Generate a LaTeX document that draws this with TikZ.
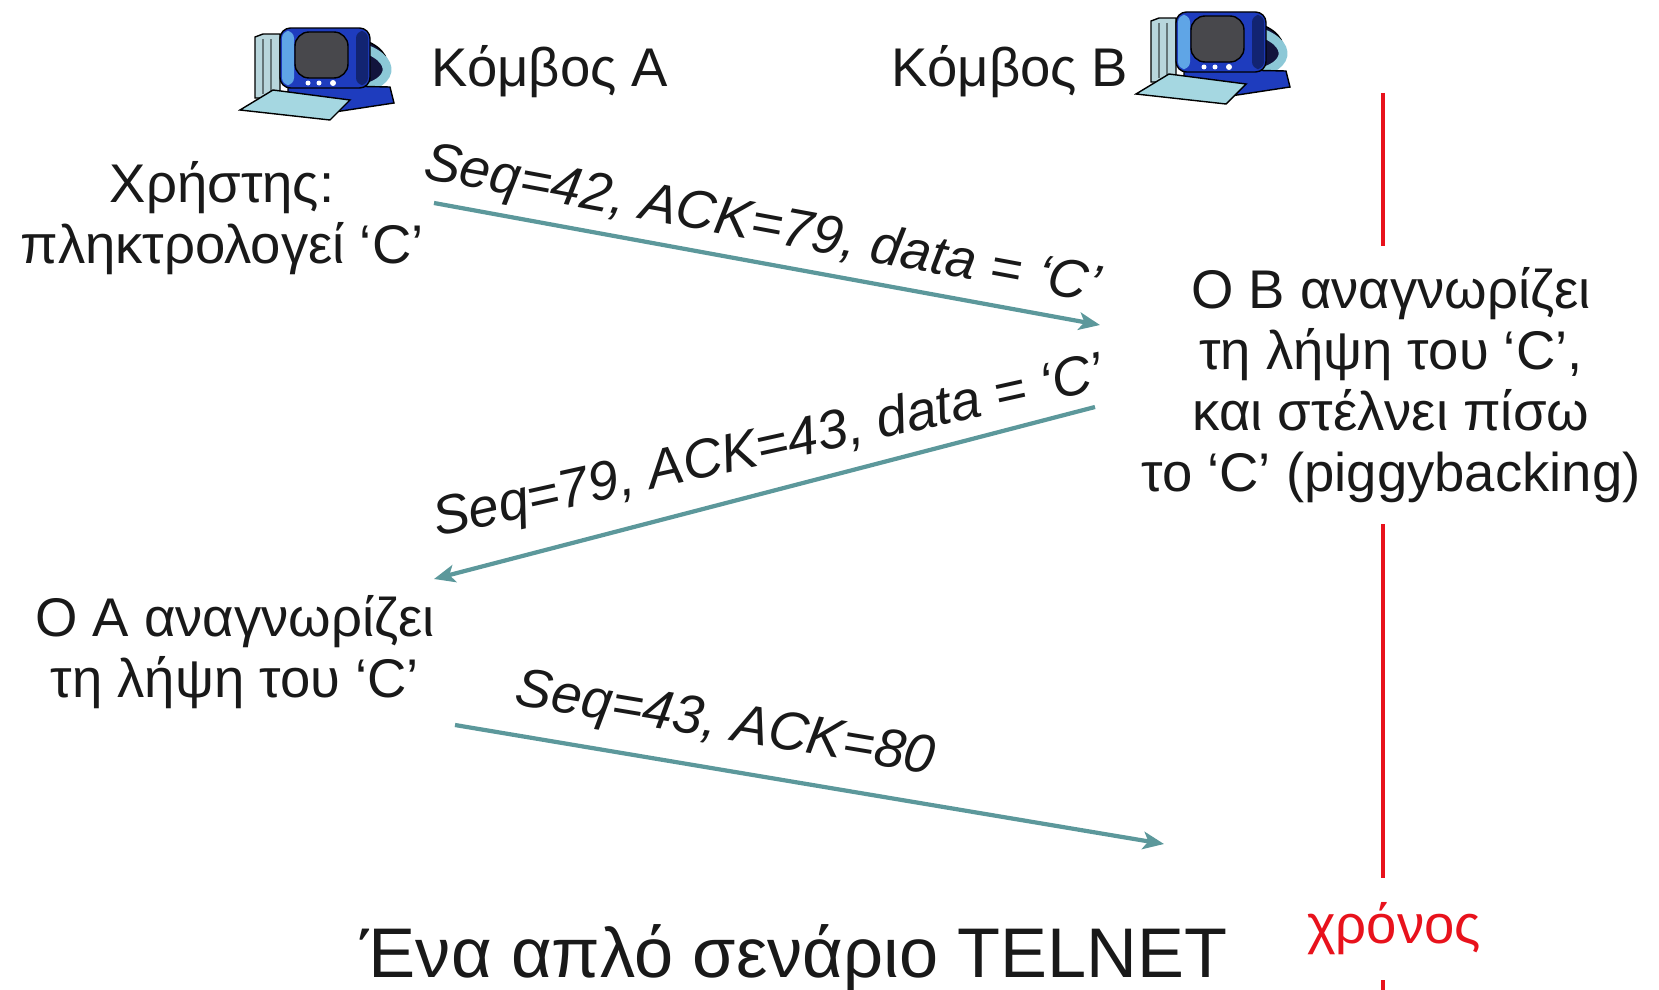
\documentclass[tikz,border=0pt]{standalone}
\usepackage{fontspec}
\setmainfont{Liberation Sans}
\usetikzlibrary{arrows.meta}

\definecolor{msgcol}{RGB}{92,152,155}
\definecolor{timered}{RGB}{232,18,28}
\definecolor{pctower}{RGB}{184,214,220}
\definecolor{pcblue}{RGB}{30,60,190}
\definecolor{pclight}{RGB}{95,165,230}
\definecolor{pcscreen}{RGB}{72,72,76}
\definecolor{pcdark}{RGB}{18,20,60}
\definecolor{pcloop}{RGB}{140,200,215}
\definecolor{pckeys}{RGB}{165,215,225}

\tikzset{
  pics/computer/.style={code={
    \draw[fill=pctower] (-0.63,-0.21) -- (-0.63,0.40) -- (-0.55,0.43) -- (-0.38,0.43) -- (-0.38,-0.21) -- cycle;
    \draw[pctower!55!black, thin] (-0.55,0.38) -- (-0.55,-0.17) (-0.47,0.38) -- (-0.47,-0.17);
    \draw[fill=pcdark] (0.3,0.4) .. controls (0.82,0.35) and (0.82,-0.1) .. (0.35,-0.16) -- cycle;
    \draw[pcloop, line width=2.5pt] (0.35,0.32) .. controls (0.86,0.2) and (0.76,-0.12) .. (0.3,-0.13);
    \draw[fill=pcblue] (-0.3,-0.08) -- (0.72,-0.1) -- (0.76,-0.26) -- (0.1,-0.36) -- (-0.3,-0.22) -- cycle;
    \draw[fill=pcblue, rounded corners=3pt] (-0.38,-0.11) rectangle (0.52,0.49);
    \fill[pclight, rounded corners=2pt] (-0.36,-0.08) rectangle (-0.24,0.46);
    \fill[pcblue!60!black, rounded corners=2pt] (0.38,-0.08) rectangle (0.5,0.46);
    \draw[fill=pcscreen, rounded corners=4pt] (-0.23,-0.01) rectangle (0.3,0.45);
    \fill[white] (-0.1,-0.06) circle (0.025) (0.01,-0.06) circle (0.025) (0.15,-0.06) circle (0.03);
    \draw[fill=pckeys] (-0.78,-0.33) -- (-0.45,-0.13) -- (0.32,-0.23) -- (0.12,-0.43) -- cycle;
  }}
}

\begin{document}
\begin{tikzpicture}[every node/.style={font=\fontsize{15.5}{17.4}\selectfont, align=center, text=black!90},
    seg/.style={font=\fontsize{15.5}{17.4}\selectfont\itshape, inner sep=0pt},
    title/.style={font=\fontsize{20}{24}\selectfont},
    msg/.style={draw=msgcol, line width=1.2pt, -{Stealth[length=6pt, width=5pt, inset=1.5pt]}},
    timeline/.style={draw=timered, line width=1.4pt}]
  \useasboundingbox (0,0) rectangle (16.59,-9.90);

  \coordinate (tTop) at (13.83,-0.93);
  \coordinate (tEnd) at (13.83,-9.90);
  \draw[timeline] (tTop) -- (tEnd);

  \pic at (3.18,-0.77) {computer};
  \pic at (12.14,-0.61) {computer};

  \node (hostA) at (5.50,-0.72) {Κόμβος A};
  \node (hostB) at (10.10,-0.72) {Κόμβος B};
  \node (userA) at (2.22,-2.18) {Χρήστης:\\πληκτρολογεί `C'};
  \node[fill=white, inner ysep=6pt] (ackB) at (13.91,-3.85) {Ο B αναγνωρίζει\\τη λήψη του `C',\\και στέλνει πίσω\\το `C' (piggybacking)};
  \node (ackA) at (2.35,-6.52) {Ο A αναγνωρίζει\\τη λήψη του `C'};
  \node[title] (caption) at (7.94,-9.58) {Ένα απλό σενάριο TELNET};
  \node[fill=white, text=timered, inner ysep=7pt] (time) at (13.94,-9.29) {χρόνος};

  \coordinate (s1) at (4.34,-2.03);
  \coordinate (r1) at (11.00,-3.25);
  \coordinate (s2) at (10.95,-4.07);
  \coordinate (r2) at (4.34,-5.79);
  \coordinate (s3) at (4.55,-7.25);
  \coordinate (r3) at (11.64,-8.44);

  \draw[msg] (s1) -- (r1);
  \draw[msg] (s2) -- (r2);
  \draw[msg] (s3) -- (r3);

  \node[seg, rotate=-10.5] (m1) at (7.62,-2.27) {Seq=42, ACK=79, data = `C'};
  \node[seg, rotate=12.5] (m2) at (7.69,-4.49) {Seq=79, ACK=43, data = `C'};
  \node[seg, rotate=-9.5] (m3) at (7.25,-7.26) {Seq=43, ACK=80};
\end{tikzpicture}
\end{document}
